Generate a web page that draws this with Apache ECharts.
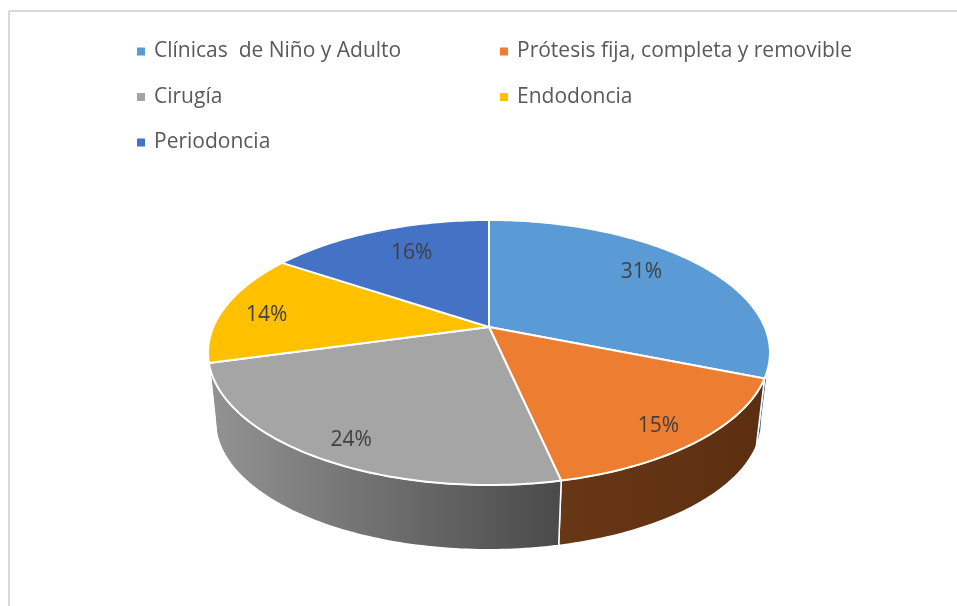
<!DOCTYPE html>
<html><head><meta charset="utf-8">
<style>html,body{margin:0;padding:0;background:#fff}#c{width:957px;height:606px}</style>
<script src="https://cdn.jsdelivr.net/npm/echarts@6/dist/echarts.min.js"></script>
</head><body><div id="c"></div>
<script>
const categories = ['Clínicas  de Niño y Adulto','Prótesis fija, completa y removible','Cirugía','Endodoncia','Periodoncia'];
const shares = [31.1,15.49,24.1,13.7,15.61];
const topColors = ['#5b9bd5','#ed7d31','#a5a5a5','#ffc000','#4472c4'];
const wallLeft = ['#2f5f8c','#683715','#939393','#997300','#2a4a80'];
const wallRight = ['#2f5f8c','#5c2e11','#4a4a4a','#997300','#2a4a80'];
const labelRadii = [0.76,0.84,0.85,0.83,0.72];
const labelNudge = [[-8,-5],[-1,6],[3,5],[-2,4],[6,-2]];

const FONT = '"Open Sans", "Noto Sans", sans-serif';
const topRim = {cx:489, cy:327, R:275.7, S:127.6, k:0.1925};
const lowRim = {cx:488.5, cy:396.2, R:268, S:124, k:0.1925};
const NEAR_FROM = 101, NEAR_TO = 259;

function project(rim, deg, r) {
  const t = deg*Math.PI/180, X = r*Math.sin(t), Y = r*Math.cos(t), w = 1 + rim.k*Y;
  return [rim.cx + rim.R*X/w, rim.cy - rim.S*Y/w];
}
function arc(rim, a, b) {
  const pts = [], n = Math.max(2, Math.ceil(Math.abs(b-a)));
  for (let i = 0; i <= n; i++) pts.push(project(rim, a+(b-a)*i/n, 1));
  return pts;
}
const total = shares.reduce((s,v)=>s+v,0);
let acc = 0;
const spans = shares.map(v => { const a = acc/total*360; acc += v; return [a, acc/total*360]; });

function makeRender(i) {
  return function (params, api) {
    const a = api.value(0), b = api.value(1), children = [];
    const from = Math.max(a, NEAR_FROM), to = Math.min(b, NEAR_TO);
    if (to > from) {
      children.push({type:'polygon', z2:1, shape:{points: arc(topRim,from,to).concat(arc(lowRim,from,to).reverse())},
        style:{fill:{type:'linear',x:0,y:0,x2:1,y2:0,colorStops:[{offset:0,color:wallLeft[i]},{offset:1,color:wallRight[i]}]},
               stroke:'#fff', lineWidth:1.5, lineJoin:'round'}});
    }
    children.push({type:'polygon', z2:2, shape:{points:[[topRim.cx,topRim.cy]].concat(arc(topRim,a,b))},
      style:{fill:topColors[i], stroke:'#fff', lineWidth:2, lineJoin:'round'}});
    const p = project(topRim,(a+b)/2,labelRadii[i]);
    children.push({type:'text', z2:3, style:{text:Math.round(shares[i]/total*100)+'%', x:p[0]+labelNudge[i][0], y:p[1]+labelNudge[i][1], align:'center', verticalAlign:'middle',
      fill:'#404040', font:'21px '+FONT}});
    return {type:'group', children};
  };
}
const chart = echarts.init(document.getElementById('c'), null, {renderer:'canvas'});
const legendBase = {orient:'vertical', icon:'rect', itemWidth:8, itemHeight:8, itemGap:24.5, selectedMode:false,
  textStyle:{color:'#595959', fontSize:21, fontFamily:FONT, padding:[0,0,0,4]}, padding:0};
chart.setOption({
  animation:false, backgroundColor:'#fff',
  legend:[
    Object.assign({left:137, top:41, data:[categories[0],categories[2],categories[4]]}, legendBase),
    Object.assign({left:500, top:41, data:[categories[1],categories[3]]}, legendBase)
  ],
  graphic:[
    {type:'line', silent:true, shape:{x1:9,y1:11,x2:957,y2:11}, style:{stroke:'#d9d9d9',lineWidth:2}},
    {type:'line', silent:true, shape:{x1:9,y1:11,x2:9,y2:606}, style:{stroke:'#d9d9d9',lineWidth:2}}
  ],
  series: categories.map((name,i)=>({type:'custom', name, coordinateSystem:'none', silent:true,
    itemStyle:{color:topColors[i]}, data:[spans[i]], renderItem:makeRender(i)}))
});
</script></body></html>
